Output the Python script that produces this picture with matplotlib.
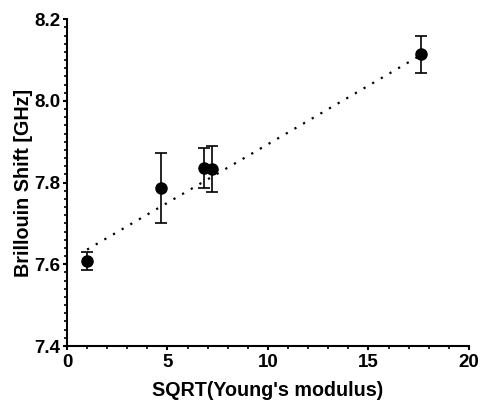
import matplotlib.pyplot as plt
from matplotlib.ticker import MultipleLocator

plt.rcParams['font.family'] = ['Liberation Sans', 'DejaVu Sans']
plt.rcParams['font.weight'] = 'bold'

# data
sqrt_modulus = [1.0, 4.7, 6.8, 7.2, 17.6]
shift = [7.607, 7.786, 7.836, 7.834, 8.114]
err_low = [0.021, 0.085, 0.048, 0.056, 0.046]
err_high = [0.023, 0.087, 0.048, 0.056, 0.044]

fit_x = [1.0, 17.6]
fit_y = [7.636, 8.112]

fig = plt.figure(figsize=(4.82, 4.0), dpi=100)
ax = fig.add_axes([0.139, 0.135, 0.834, 0.817])

ax.plot(fit_x, fit_y, color='black', linestyle=(0, (1, 3.5)), linewidth=1.6)
ax.errorbar(sqrt_modulus, shift, yerr=[err_low, err_high], fmt='o', color='black',
            markersize=8, capsize=4, elinewidth=1.2, capthick=1.2)

ax.set_xlim(0, 20)
ax.set_ylim(7.4, 8.2)
ax.xaxis.set_major_locator(MultipleLocator(5))
ax.xaxis.set_minor_locator(MultipleLocator(1))
ax.yaxis.set_major_locator(MultipleLocator(0.2))
ax.yaxis.set_minor_locator(MultipleLocator(0.02))
ax.yaxis.set_major_formatter(plt.FormatStrFormatter('%.1f'))

for s in ['top', 'right']:
    ax.spines[s].set_visible(False)
for s in ['left', 'bottom']:
    ax.spines[s].set_linewidth(1.5)

ax.tick_params(which='major', length=3, width=1.5, labelsize=13.5, pad=1.5)
ax.tick_params(which='minor', length=2, width=1.2)
ax.tick_params(axis='x', which='major', pad=3)

ax.set_xlabel("SQRT(Young's modulus)", fontsize=14.2, fontweight='bold', labelpad=7)
ax.set_ylabel('Brillouin Shift [GHz]', fontsize=14.2, fontweight='bold', labelpad=1)

fig.savefig('out.png', dpi=100)
